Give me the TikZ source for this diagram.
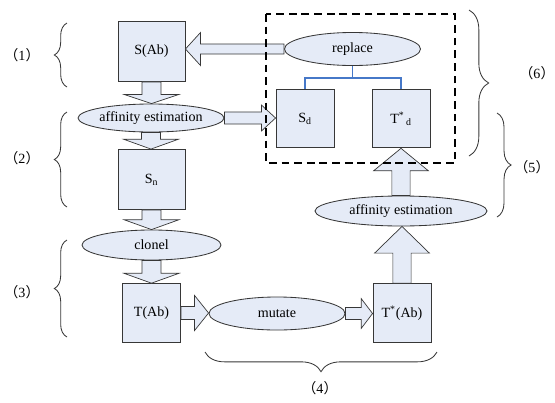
\documentclass[tikz,border=0pt]{standalone}
\usepackage{fontspec}
\setmainfont{Liberation Serif}
\newfontfamily\cjk{Noto Sans CJK SC}
\usetikzlibrary{shapes.geometric, decorations.pathreplacing, calc}
\definecolor{boxfill}{RGB}{229,235,247}
\definecolor{edgegray}{RGB}{55,55,55}
\definecolor{linkblue}{RGB}{70,120,200}
\newcommand{\steplab}[1]{{\cjk （}#1{\cjk ）}}
\newcommand{\fatv}[5]{%
  \draw[fat] let \p1=(#1), \p2=(#2), \n1={sign(\y2-\y1)} in
    (\x1-#3,\y1) -- (\x1-#3,{\y2-(\n1)*#5}) -- (\x1-#4,{\y2-(\n1)*#5}) -- (\x1,\y2)
    -- (\x1+#4,{\y2-(\n1)*#5}) -- (\x1+#3,{\y2-(\n1)*#5}) -- (\x1+#3,\y1) -- cycle;}
\newcommand{\fath}[5]{%
  \draw[fat] let \p1=(#1), \p2=(#2), \n1={sign(\x2-\x1)} in
    (\x1,\y1-#3) -- ({\x2-(\n1)*#5},\y1-#3) -- ({\x2-(\n1)*#5},\y1-#4) -- (\x2,\y1)
    -- ({\x2-(\n1)*#5},\y1+#4) -- ({\x2-(\n1)*#5},\y1+#3) -- (\x1,\y1+#3) -- cycle;}

\begin{document}
\begin{tikzpicture}[
  x=0.025cm, y=-0.025cm,
  blk/.style={rectangle, draw=edgegray, fill=boxfill, line width=0.6pt, inner sep=0pt},
  big/.style={blk, minimum width=1.675cm, minimum height=1.5cm},
  small/.style={blk, minimum width=1.45cm, minimum height=1.47cm},
  ell/.style={ellipse, draw=edgegray, fill=boxfill, line width=0.6pt, inner sep=0pt},
  fat/.style={draw=edgegray, fill=boxfill, line width=0.5pt, line join=miter},
  tree/.style={draw=linkblue, line width=0.9pt},
  grp/.style={draw=black, line width=1.3pt, dash pattern=on 5.5pt off 3.5pt},
  brc/.style={draw=edgegray, line width=0.6pt, decorate, decoration={brace, amplitude=#1}},
  brc/.default=9pt
]
\useasboundingbox (0,0) rectangle (555,403);
\node[big] (sab) at (151.5,51.5) {S(Ab)};
\node[ell, minimum width=3.55cm, minimum height=0.7cm] (aff1) at (151,118) {affinity estimation};
\node[big] (sn) at (151.5,179.5) {S\textsubscript{n}};
\node[ell, minimum width=3.475cm, minimum height=0.75cm] (clonel) at (151.5,245) {clonel};
\node[small] (tab) at (151.5,313) {T(Ab)};
\node[ell, minimum width=3.4cm, minimum height=0.825cm] (mutate) at (277,313.5) {mutate};
\node[small] (tsab) at (402,313) {T\textsuperscript{*}(Ab)};
\node[ell, minimum width=4.3cm, minimum height=0.75cm] (aff2) at (401,211) {affinity estimation};
\node[small] (sd) at (305,118.5) {S\textsubscript{d}};
\node[small] (tsd) at (401,118.5) {T\textsuperscript{*}\textsubscript{\,d}};
\node[ell, minimum width=3.4cm, minimum height=0.825cm] (replace) at (352.5,49) {replace};
\fatv{sab.south}{aff1.north}{6.75}{19.5}{6.5}
\fatv{aff1.south}{sn.north}{6.75}{19.5}{7}
\fatv{sn.south}{clonel.north}{6.75}{19.5}{7}
\fatv{clonel.south}{tab.north}{6.75}{19.5}{7}
\fath{tab.east}{mutate.west}{4.6}{12.5}{10}
\fath{mutate.east}{tsab.west}{4.3}{10.5}{8}
\fatv{tsab.north}{aff2.south}{6.5}{19.5}{19}
\fatv{aff2.north}{tsd.south}{6.5}{19.5}{16}
\fath{aff1.east}{sd.west}{4.3}{9.2}{10}
\fath{replace.west}{sab.east}{3.6}{11.7}{10.7}
\draw[tree] (replace.south) -- ++(0,12) -| (sd.north);
\draw[tree] (replace.south) -- ++(0,12) -| (tsd.north);
\draw[grp] (266,14) rectangle (455,163);
\draw[brc] (67,87) -- (67,23);
\draw[brc] (67,207) -- (67,112);
\draw[brc] (67,337) -- (67,240);
\draw[brc=14pt] (437,352) -- (205,352);
\draw[brc=10pt] (497,113) -- (497,217);
\draw[brc=14pt] (469,10) -- (469,156);
\node (l1) at (22,55) {\steplab{1}};
\node (l2) at (22,158) {\steplab{2}};
\node (l3) at (22,292) {\steplab{3}};
\node (l4) at (320,388) {\steplab{4}};
\node (l5) at (532,167) {\steplab{5}};
\node (l6) at (537,73) {\steplab{6}};
\end{tikzpicture}
\end{document}
